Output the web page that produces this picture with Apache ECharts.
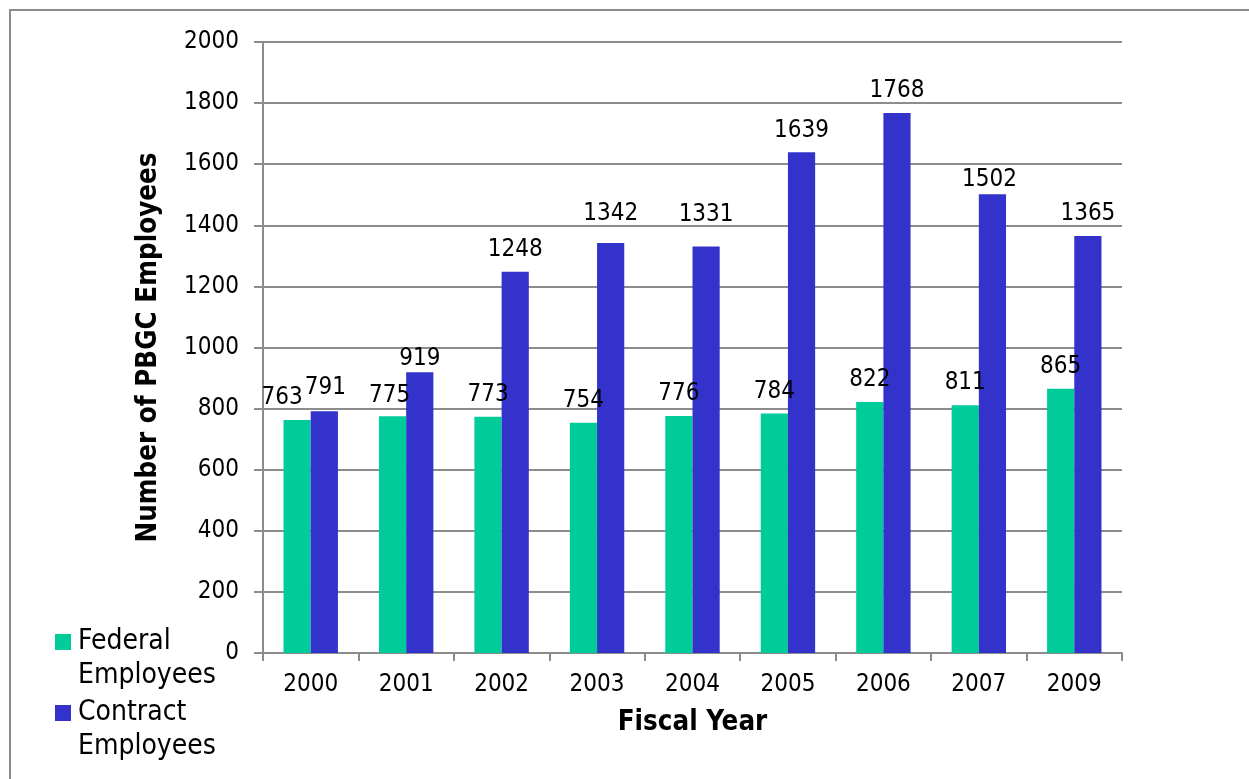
<!DOCTYPE html>
<html>
<head>
<meta charset="utf-8">
<title>PBGC Employees by Fiscal Year</title>
<script src="https://cdn.jsdelivr.net/npm/echarts@6/dist/echarts.min.js"></script>
<style>
  html, body { margin: 0; padding: 0; background: #ffffff; }
  #chart { width: 1249px; height: 779px; }
</style>
</head>
<body>
<div id="chart"></div>
<script>
// Fiscal years shown on the category axis (2008 is not reported)
const years = ['2000', '2001', '2002', '2003', '2004', '2005', '2006', '2007', '2009'];
// Headcounts per year
const federalEmployees = [763, 775, 773, 754, 776, 784, 822, 811, 865];
const contractEmployees = [791, 919, 1248, 1342, 1331, 1639, 1768, 1502, 1365];
// Value axis settings
const yMin = 0;
const yMax = 2000;
const yStep = 200;

const FONT = '"DejaVu Sans Condensed", "DejaVu Sans", sans-serif';
const GREEN = '#00CC99';
const BLUE = '#3333CC';
const GRID_GRAY = '#8c8c8c';

// Small nudges for value labels (pixel offsets), keyed by year
const federalLabelNudge = { '2000': [-15, 0], '2001': [-3, 2] };
const contractLabelNudge = { '2000': [1, -2], '2001': [0, 9], '2003': [0, -7], '2004': [0, -10], '2007': [-3, 8] };

const chart = echarts.init(document.getElementById('chart'), null, { renderer: 'canvas' });

const labelStyle = {
  show: true,
  position: 'top',
  distance: 10,
  color: '#000',
  fontFamily: FONT,
  fontSize: 24
};

function withNudges(values, nudges) {
  return values.map((v, i) => {
    const off = nudges[years[i]];
    return off ? { value: v, label: { offset: off } } : v;
  });
}

chart.setOption({
  backgroundColor: '#ffffff',
  animation: false,
  textStyle: { fontFamily: FONT },
  grid: { left: 263, right: 127, top: 42, bottom: 126, containLabel: false },
  legend: { show: false },
  xAxis: {
    type: 'category',
    data: years,
    boundaryGap: true,
    name: 'Fiscal Year',
    nameLocation: 'middle',
    nameGap: 56,
    nameTextStyle: { fontFamily: FONT, fontSize: 27.5, fontWeight: 'bold', color: '#000' },
    axisLine: { show: true, lineStyle: { color: GRID_GRAY, width: 2 } },
    axisTick: { show: true, alignWithLabel: false, length: 8, inside: false, lineStyle: { color: GRID_GRAY, width: 2 } },
    axisLabel: { fontFamily: FONT, fontSize: 24, color: '#000', margin: 20, interval: 0 },
    splitLine: { show: false }
  },
  yAxis: {
    type: 'value',
    min: yMin,
    max: yMax,
    interval: yStep,
    name: 'Number of PBGC Employees',
    nameLocation: 'middle',
    nameGap: 100,
    nameTextStyle: { fontFamily: FONT, fontSize: 27.5, fontWeight: 'bold', color: '#000' },
    axisLine: { show: true, lineStyle: { color: GRID_GRAY, width: 2 } },
    axisTick: { show: true, length: 9, inside: false, lineStyle: { color: GRID_GRAY, width: 2 } },
    axisLabel: { fontFamily: FONT, fontSize: 24, color: '#000', margin: 24, formatter: v => String(v) },
    splitLine: { show: true, lineStyle: { color: GRID_GRAY, width: 2 } }
  },
  series: [
    {
      name: 'Federal Employees',
      type: 'bar',
      data: withNudges(federalEmployees, federalLabelNudge),
      itemStyle: { color: GREEN },
      barGap: '0%',
      barCategoryGap: '43%',
      label: labelStyle
    },
    {
      name: 'Contract Employees',
      type: 'bar',
      data: withNudges(contractEmployees, contractLabelNudge),
      itemStyle: { color: BLUE },
      barGap: '0%',
      barCategoryGap: '43%',
      label: labelStyle
    }
  ],
  graphic: [
    // outer frame
    {
      type: 'rect',
      shape: { x: 10, y: 10, width: 1400, height: 1000 },
      style: { fill: 'none', stroke: '#8c8c8c', lineWidth: 2 },
      silent: true
    },
    // legend
    {
      type: 'rect',
      shape: { x: 55, y: 634, width: 16, height: 16 },
      style: { fill: GREEN }
    },
    {
      type: 'text',
      x: 78,
      y: 625,
      style: { text: 'Federal\nEmployees', fontFamily: FONT, fontSize: 28, lineHeight: 34, fill: '#000' }
    },
    {
      type: 'rect',
      shape: { x: 55, y: 705, width: 16, height: 16 },
      style: { fill: BLUE }
    },
    {
      type: 'text',
      x: 78,
      y: 696,
      style: { text: 'Contract\nEmployees', fontFamily: FONT, fontSize: 28, lineHeight: 34, fill: '#000' }
    }
  ]
});
</script>
</body>
</html>
